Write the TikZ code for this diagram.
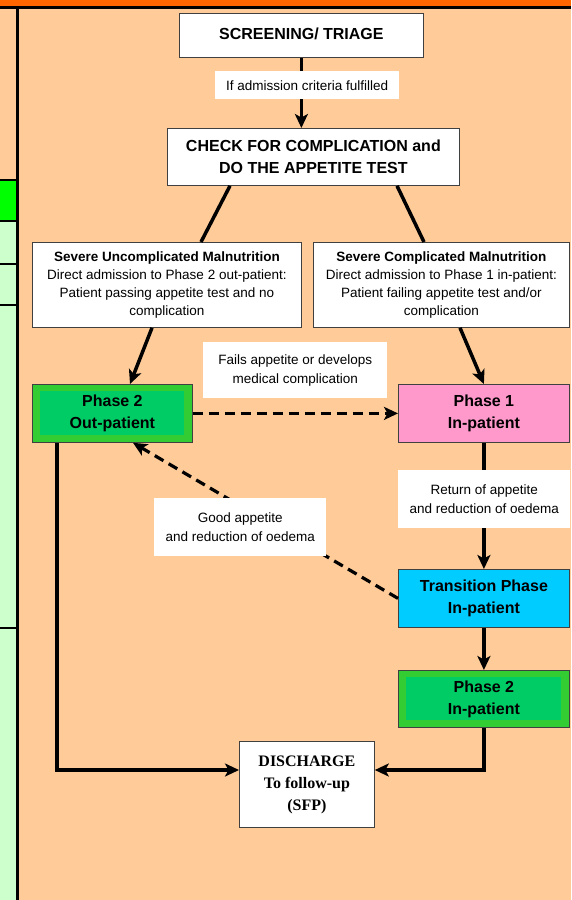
\documentclass[tikz,border=0pt]{standalone}
\usepackage{fontspec}
\setmainfont{Liberation Sans}
\newfontfamily\serifdis{Liberation Serif}
\usetikzlibrary{calc,arrows.meta}
\definecolor{orangehaut}{HTML}{FF6600}
\definecolor{peche}{HTML}{FFCC99}
\definecolor{vertvif}{HTML}{00FF00}
\definecolor{vertpale}{HTML}{CCFFCC}
\definecolor{vertbord}{HTML}{33CC33}
\definecolor{vertfonce}{HTML}{00CC66}
\definecolor{roseph}{HTML}{FF99CC}
\definecolor{bleuph}{HTML}{00CCFF}
\tikzstyle{incolore} = [rectangle, draw=black!75, line width=0.8pt, fill=white, inner sep=0pt, align=center]
\tikzstyle{titre} = [incolore, font=\bfseries\fontsize{16}{22}\selectfont]
\tikzstyle{severe} = [incolore, font=\fontsize{13.5}{18}\selectfont]
\tikzstyle{phaseun} = [titre, fill=roseph]
\tikzstyle{phasetrans} = [titre, fill=bleuph]
\tikzstyle{phasedeux} = [titre, fill=vertbord, path picture={\fill[vertfonce] ([shift={(8pt,-7pt)}]path picture bounding box.north west) rectangle ([shift={(-8pt,7pt)}]path picture bounding box.south east);}]
\tikzstyle{etiquette} = [rectangle, fill=white, inner sep=0pt, align=center, font=\fontsize{13.5}{19}\selectfont]
\tikzstyle{trait} = [line width=3.5pt]
\tikzstyle{fleche} = [trait, -{Stealth[length=14pt, width=13pt, inset=3.5pt]}]
\tikzstyle{pointille} = [fleche, line width=3.2pt, dash pattern=on 10pt off 6pt]

\begin{document}
\begin{tikzpicture}[x=1pt, y=-1pt]
                \useasboundingbox (0,0) rectangle (571,900);
                % fond
                \fill[peche] (0,0) rectangle (571,900);
                \fill[orangehaut] (0,0) rectangle (571,7);
                \fill[vertvif] (0,180) rectangle (17,221);
                \fill[vertpale] (0,221) rectangle (17,900);
                \draw[line width=3pt] (0,7.5) -- (571,7.5);
                \draw[line width=3pt] (17.5,7.5) -- (17.5,900);
                \foreach \y in {180,221,264,305,628}
                    \draw[line width=2pt] (0,\y) -- (17.5,\y);

                % boites
                \node [titre, anchor=north west, minimum width=244pt, minimum height=44pt] (triage) at (179,13) {\raisebox{3pt}{SCREENING/ TRIAGE}};
                \node [titre, anchor=north west, minimum width=292pt, minimum height=57pt] (check) at (167,128) {CHECK FOR COMPLICATION and\\DO THE APPETITE TEST};

                \node [severe, anchor=north west, minimum width=269pt, minimum height=85pt] (sevunc) at (32,242) {\textbf{Severe Uncomplicated Malnutrition}\\
                    Direct admission to Phase 2 out-patient:\\
                    Patient passing appetite test and no\\
                    complication};
                \node [severe, anchor=north west, minimum width=256pt, minimum height=85pt] (sevcomp) at (313,242) {\textbf{Severe Complicated Malnutrition}\\
                    Direct admission to Phase 1 in-patient:\\
                    Patient failing appetite test and/or\\
                    complication};

                \node [phasedeux, anchor=north west, minimum width=160pt, minimum height=58pt] (p2out) at (32,384) {Phase 2\\Out-patient};
                \node [phaseun, anchor=north west, minimum width=171pt, minimum height=58pt] (p1) at (398,384) {Phase 1\\In-patient};
                \node [phasetrans, anchor=north west, minimum width=171pt, minimum height=58pt] (trans) at (398,569) {Transition Phase\\In-patient};
                \node [phasedeux, anchor=north west, minimum width=171pt, minimum height=57pt] (p2in) at (398,670) {Phase 2\\In-patient};
                \node [incolore, anchor=north west, minimum width=135pt, minimum height=86pt, font=\serifdis\bfseries\fontsize{16}{22}\selectfont] (discharge) at (239,741) {DISCHARGE\\To follow-up\\(SFP)};

                % liaisons
                \draw[fleche] (triage.south) -- (triage.south |- check.north);
                \draw[trait] ([xshift=63pt]check.south west) -- ([xshift=169pt]sevunc.north west);
                \draw[trait] ([xshift=230pt]check.south west) -- ([xshift=111pt]sevcomp.north west);
                \draw[fleche] ([xshift=120pt]sevunc.south west) -- ([xshift=98pt]p2out.north west);
                \draw[fleche] ([xshift=147pt]sevcomp.south west) -- (p1.north);
                \draw[pointille] (p2out.east) -- (p1.west);
                \draw[fleche] (p1.south) -- (trans.north);
                \draw[pointille] (trans.west) -- ([xshift=101pt]p2out.south west);
                \draw[fleche] (trans.south) -- (p2in.north);
                \draw[fleche] ([xshift=25pt]p2out.south west) |- ([yshift=-29pt]discharge.north west);
                \draw[fleche] (p2in.south) |- ([yshift=-29pt]discharge.north east);

                % etiquettes
                \node [etiquette, anchor=north west, minimum width=184pt, minimum height=28pt] (lblcrit) at (215,71) {If admission criteria fulfilled};
                \node [etiquette, anchor=north west, minimum width=184pt, minimum height=56pt] (lblfail) at (203,342) {Fails appetite or develops\\medical complication};
                \node [etiquette, anchor=north west, minimum width=172pt, minimum height=58pt] (lblret) at (398,470) {Return of appetite\\and reduction of oedema};
                \node [etiquette, anchor=north west, minimum width=172pt, minimum height=58pt] (lblgood) at (154,498) {Good appetite\\and reduction of oedema};
            \end{tikzpicture}
\end{document}
